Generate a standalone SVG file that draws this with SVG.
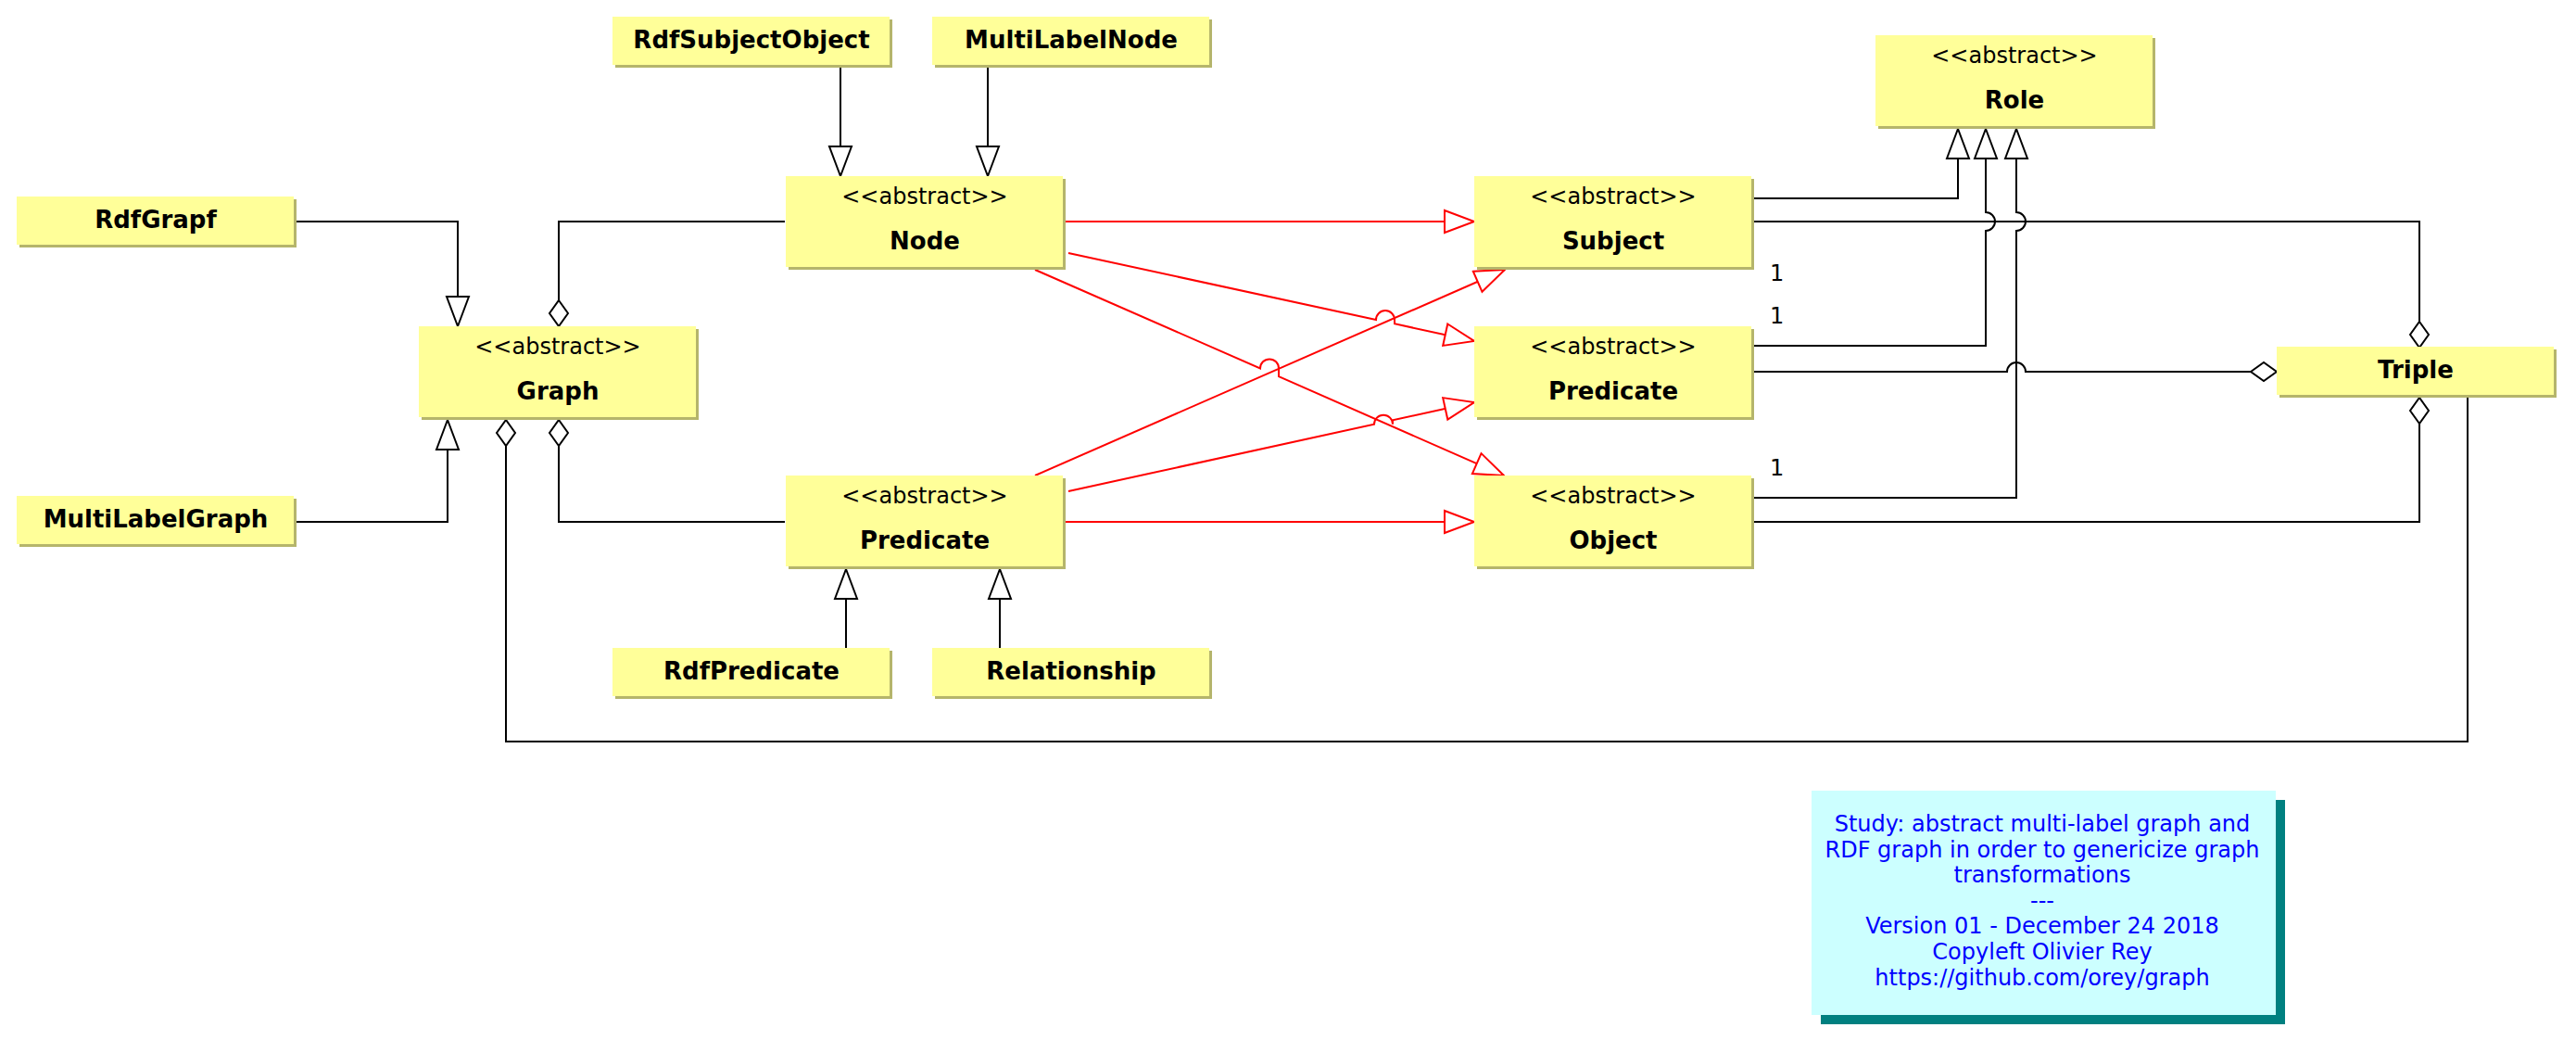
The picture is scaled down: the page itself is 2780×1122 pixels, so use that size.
<svg xmlns="http://www.w3.org/2000/svg" width="2780" height="1122" viewBox="0 0 2780 1122">
<style>
.sh{fill:#b5b56b}
.bx{fill:#ffff99}
.st{font-family:'DejaVu Sans',sans-serif;font-size:24px;fill:#000;text-anchor:middle}
.nm{font-family:'DejaVu Sans',sans-serif;font-size:26px;font-weight:bold;fill:#000;text-anchor:middle}
.ln{fill:none;stroke:#000;stroke-width:2}
.rd{fill:none;stroke:#ff0000;stroke-width:2}
.mul{font-family:'DejaVu Sans',sans-serif;font-size:24px;fill:#000}
.nt{font-family:'DejaVu Sans',sans-serif;font-size:24px;fill:#0000ff;text-anchor:middle}
</style>
<defs>
<marker id="tri" viewBox="-2 -14 36 28" refX="32" refY="0" markerWidth="36" markerHeight="28" markerUnits="userSpaceOnUse" orient="auto" overflow="visible"><path d="M0,-12 L32,0 L0,12 Z" fill="#fff" stroke="#000" stroke-width="2"/></marker>
<marker id="trir" viewBox="-2 -14 36 28" refX="32" refY="0" markerWidth="36" markerHeight="28" markerUnits="userSpaceOnUse" orient="auto" overflow="visible"><path d="M0,-12 L32,0 L0,12 Z" fill="#fff" stroke="#ff0000" stroke-width="2"/></marker>
<marker id="dia" viewBox="-2 -12 32 24" refX="28" refY="0" markerWidth="32" markerHeight="24" markerUnits="userSpaceOnUse" orient="auto" overflow="visible"><path d="M0,0 L14,-10 L28,0 L14,10 Z" fill="#fff" stroke="#000" stroke-width="2"/></marker>
</defs>
<rect width="2780" height="1122" fill="#fff"/>

<g id="connectors">
<path class="ln" d="M907,73 V190" marker-end="url(#tri)"/>
<path class="ln" d="M1066,73 V190" marker-end="url(#tri)"/>
<path class="ln" d="M320,239 H494 V352" marker-end="url(#tri)"/>
<path class="ln" d="M847,239 H603 V352" marker-end="url(#dia)"/>
<path class="ln" d="M320,563 H483 V453" marker-end="url(#tri)"/>
<path class="ln" d="M847,563 H603 V453" marker-end="url(#dia)"/>
<path class="ln" d="M2663,429 V800 H546 V453" marker-end="url(#dia)"/>
<path class="ln" d="M913,699 V614" marker-end="url(#tri)"/>
<path class="ln" d="M1079,699 V614" marker-end="url(#tri)"/>
<path class="ln" d="M1893,214 H2113 V139" marker-end="url(#tri)"/>
<path class="ln" d="M1893,373 H2143 V249 A10,10 0 0 0 2143,229 V139" marker-end="url(#tri)"/>
<path class="ln" d="M1893,537 H2176 V249 A10,10 0 0 0 2176,229 V139" marker-end="url(#tri)"/>
<path class="ln" d="M1893,239 H2611 V375" marker-end="url(#dia)"/>
<path class="ln" d="M1893,401 H2166 A10,10 0 0 1 2186,401 H2457" marker-end="url(#dia)"/>
<path class="ln" d="M1893,563 H2611 V429" marker-end="url(#dia)"/>
<path class="rd" d="M1150,239 H1591" marker-end="url(#trir)"/>
<path class="rd" d="M1153,273 L1485,345 A10,10 0 0 1 1505,345 L1505,349.3 L1591,368" marker-end="url(#trir)"/>
<path class="rd" d="M1117,291 L1360,397.4 A10,10 0 0 1 1380,397.4 L1380,406.2 L1623,513" marker-end="url(#trir)"/>
<path class="rd" d="M1117,513 L1624,291" marker-end="url(#trir)"/>
<path class="rd" d="M1153,530 L1483,457.7 A10,10 0 0 1 1503,457.7 L1503,453.3 L1591,434" marker-end="url(#trir)"/>
<path class="rd" d="M1150,563 H1591" marker-end="url(#trir)"/>
<text class="mul" x="1910" y="303">1</text>
<text class="mul" x="1910" y="349">1</text>
<text class="mul" x="1910" y="513">1</text>
</g>

<g id="RdfSubjectObject"><rect class="sh" x="664" y="21" width="299" height="52"/><rect class="bx" x="661" y="18" width="299" height="52"/><text class="nm" x="811" y="52">RdfSubjectObject</text></g>
<g id="MultiLabelNode"><rect class="sh" x="1009" y="21" width="299" height="52"/><rect class="bx" x="1006" y="18" width="299" height="52"/><text class="nm" x="1156" y="52">MultiLabelNode</text></g>
<g id="Role"><rect class="sh" x="2027" y="41" width="299" height="98"/><rect class="bx" x="2024" y="38" width="299" height="98"/><text class="st" x="2174" y="68">&lt;&lt;abstract&gt;&gt;</text><text class="nm" x="2174" y="117">Role</text></g>
<g id="RdfGrapf"><rect class="sh" x="21" y="215" width="299" height="52"/><rect class="bx" x="18" y="212" width="299" height="52"/><text class="nm" x="168" y="246">RdfGrapf</text></g>
<g id="Node"><rect class="sh" x="851" y="193" width="299" height="98"/><rect class="bx" x="848" y="190" width="299" height="98"/><text class="st" x="998" y="220">&lt;&lt;abstract&gt;&gt;</text><text class="nm" x="998" y="269">Node</text></g>
<g id="Subject"><rect class="sh" x="1594" y="193" width="299" height="98"/><rect class="bx" x="1591" y="190" width="299" height="98"/><text class="st" x="1741" y="220">&lt;&lt;abstract&gt;&gt;</text><text class="nm" x="1741" y="269">Subject</text></g>
<g id="Graph"><rect class="sh" x="455" y="355" width="299" height="98"/><rect class="bx" x="452" y="352" width="299" height="98"/><text class="st" x="602" y="382">&lt;&lt;abstract&gt;&gt;</text><text class="nm" x="602" y="431">Graph</text></g>
<g id="PredicateRight"><rect class="sh" x="1594" y="355" width="299" height="98"/><rect class="bx" x="1591" y="352" width="299" height="98"/><text class="st" x="1741" y="382">&lt;&lt;abstract&gt;&gt;</text><text class="nm" x="1741" y="431">Predicate</text></g>
<g id="Triple"><rect class="sh" x="2460" y="377" width="299" height="52"/><rect class="bx" x="2457" y="374" width="299" height="52"/><text class="nm" x="2607" y="408">Triple</text></g>
<g id="MultiLabelGraph"><rect class="sh" x="21" y="538" width="299" height="52"/><rect class="bx" x="18" y="535" width="299" height="52"/><text class="nm" x="168" y="569">MultiLabelGraph</text></g>
<g id="PredicateLeft"><rect class="sh" x="851" y="516" width="299" height="98"/><rect class="bx" x="848" y="513" width="299" height="98"/><text class="st" x="998" y="543">&lt;&lt;abstract&gt;&gt;</text><text class="nm" x="998" y="592">Predicate</text></g>
<g id="Object"><rect class="sh" x="1594" y="516" width="299" height="98"/><rect class="bx" x="1591" y="513" width="299" height="98"/><text class="st" x="1741" y="543">&lt;&lt;abstract&gt;&gt;</text><text class="nm" x="1741" y="592">Object</text></g>
<g id="RdfPredicate"><rect class="sh" x="664" y="702" width="299" height="52"/><rect class="bx" x="661" y="699" width="299" height="52"/><text class="nm" x="811" y="733">RdfPredicate</text></g>
<g id="Relationship"><rect class="sh" x="1009" y="702" width="299" height="52"/><rect class="bx" x="1006" y="699" width="299" height="52"/><text class="nm" x="1156" y="733">Relationship</text></g>

<g id="Note">
<rect x="1965" y="863" width="501" height="242" fill="#008080"/>
<rect x="1955" y="853" width="501" height="242" fill="#ccffff"/>
<text class="nt" x="2204" y="897">Study: abstract multi-label graph and</text>
<text class="nt" x="2204" y="925">RDF graph in order to genericize graph</text>
<text class="nt" x="2204" y="952">transformations</text>
<text class="nt" x="2204" y="980">---</text>
<text class="nt" x="2204" y="1007">Version 01 - December 24 2018</text>
<text class="nt" x="2204" y="1035">Copyleft Olivier Rey</text>
<text class="nt" x="2204" y="1063">https://github.com/orey/graph</text>
</g>
</svg>
